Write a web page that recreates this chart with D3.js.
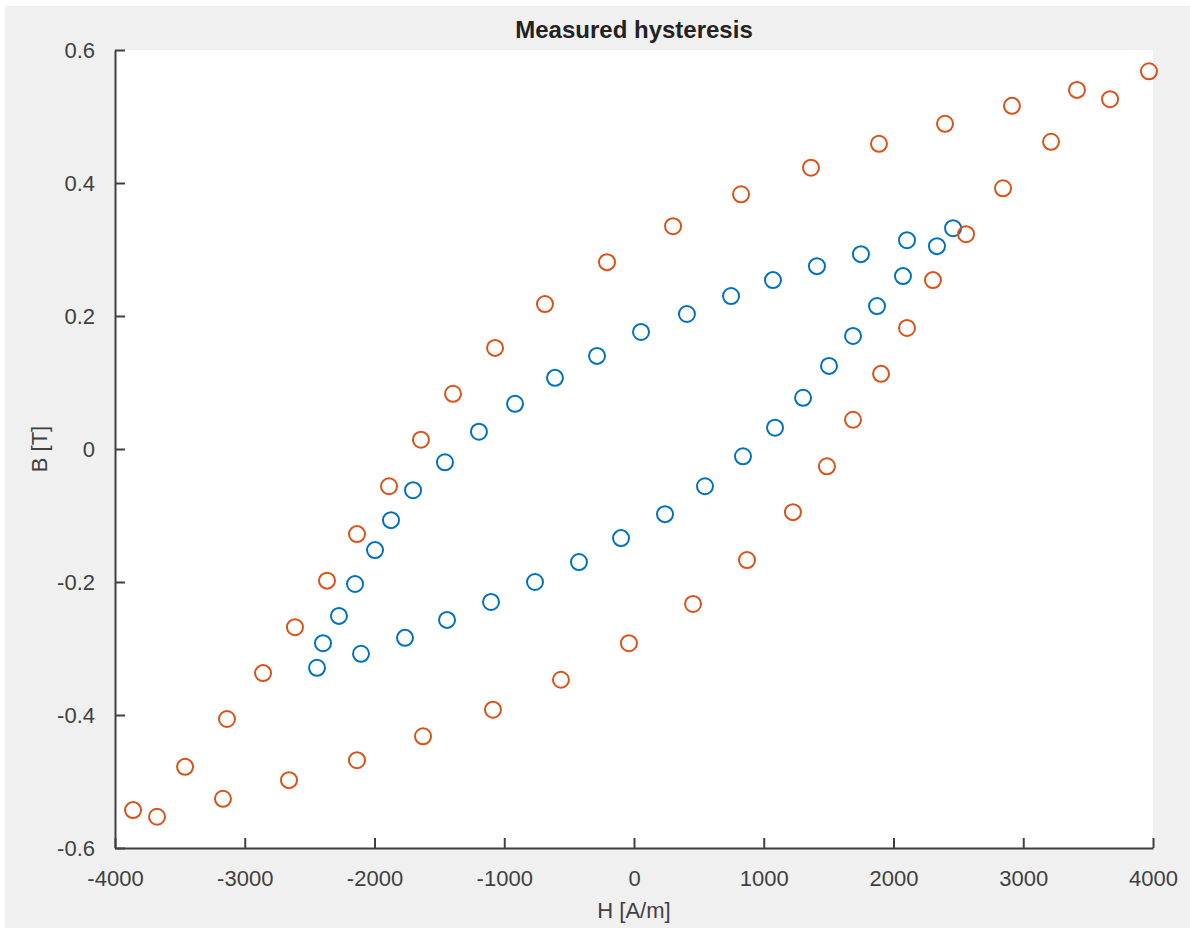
<!DOCTYPE html>
<meta charset="utf-8">
<style>
  body { margin: 0; background: #fff; }
</style>

<!-- Load d3.js -->
<script src="https://d3js.org/d3.v7.min.js"></script>

<div id="my_dataviz"></div>
<script>

// measured points, small loop (blue) then large loop (orange)
var hSmall = [-2443, -2397, -2274, -2150, -1996, -1873, -1703, -1457, -1195, -917, -609, -285, 54, 408, 748, 1071, 1410, 1749, 2104, 2459,
  2335, 2073, 1873, 1688, 1503, 1303, 1087, 840, 547, 239, -100, -424, -763, -1102, -1441, -1765, -2104];
var bSmall = [-0.329, -0.292, -0.251, -0.203, -0.152, -0.107, -0.062, -0.020, 0.026, 0.068, 0.107, 0.140, 0.176, 0.203, 0.230, 0.254, 0.275, 0.293, 0.314, 0.332,
  0.305, 0.260, 0.215, 0.170, 0.125, 0.077, 0.032, -0.011, -0.056, -0.098, -0.134, -0.170, -0.200, -0.230, -0.257, -0.284, -0.308];

var hLarge = [-3861, -3460, -3137, -2859, -2613, -2366, -2135, -1888, -1642, -1395, -1071, -686, -208, 301, 825, 1364, 1888, 2397, 2913, 3414, 3969,
  3669, 3214, 2844, 2559, 2304, 2104, 1904, 1688, 1487, 1225, 871, 455, -39, -563, -1087, -1626, -2135, -2659, -3168, -3676];
var bLarge = [-0.543, -0.478, -0.406, -0.337, -0.268, -0.198, -0.128, -0.056, 0.014, 0.083, 0.152, 0.218, 0.281, 0.335, 0.383, 0.423, 0.459, 0.489, 0.516, 0.540, 0.568,
  0.526, 0.462, 0.392, 0.323, 0.254, 0.182, 0.113, 0.044, -0.026, -0.095, -0.167, -0.233, -0.292, -0.347, -0.392, -0.432, -0.468, -0.498, -0.526, -0.553];

var xTicks = [-4000, -3000, -2000, -1000, 0, 1000, 2000, 3000, 4000];
var yTicks = [-0.6, -0.4, -0.2, 0, 0.2, 0.4, 0.6];

var colors = ["#0072BD", "#D95319"];
var axisColor = "#404040";

var width = 1190, height = 928;
var margin = {left: 115, top: 50, right: 37, bottom: 80};

var svg = d3.select("#my_dataviz")
  .append("svg")
    .attr("width", width)
    .attr("height", height)
    .style("font-family", "'Liberation Sans', Arial, sans-serif");

// grey figure background, white axes box
svg.append("rect")
  .attr("x", 5).attr("y", 6)
  .attr("width", width - 5).attr("height", height - 6)
  .attr("fill", "#f0f0f0");

var x = d3.scaleLinear().domain([-4000, 4000]).range([margin.left, width - margin.right]);
var y = d3.scaleLinear().domain([-0.6, 0.6]).range([height - margin.bottom, margin.top]);

svg.append("rect")
  .attr("x", x(-4000)).attr("y", y(0.6))
  .attr("width", x(4000) - x(-4000)).attr("height", y(-0.6) - y(0.6))
  .attr("fill", "#fff");

// plain hyphen for negative numbers, like the original
function fmtX(d) { return String(d); }
function fmtY(d) { return d === 0 ? "0" : d.toFixed(1); }

// axes, ticks pointing inward
var xAxis = svg.append("g")
  .attr("transform", "translate(0," + y(-0.6) + ")")
  .call(d3.axisBottom(x).tickValues(xTicks).tickSizeInner(-10).tickSizeOuter(0).tickPadding(22).tickFormat(fmtX));
var yAxis = svg.append("g")
  .attr("transform", "translate(" + x(-4000) + ",0)")
  .call(d3.axisLeft(y).tickValues(yTicks).tickSizeInner(-10).tickSizeOuter(0).tickPadding(20).tickFormat(fmtY));

[xAxis, yAxis].forEach(function(a) {
  a.select(".domain").attr("stroke", axisColor).attr("stroke-width", 2);
  a.selectAll(".tick line").attr("stroke", axisColor).attr("stroke-width", 2);
  a.selectAll(".tick text").attr("fill", axisColor).style("font-size", "22px");
});

// scatter markers
function drawSeries(hs, bs, color) {
  svg.append("g")
    .selectAll("circle")
    .data(d3.range(hs.length))
    .enter()
    .append("circle")
      .attr("cx", function(i) { return x(hs[i]); })
      .attr("cy", function(i) { return y(bs[i]); })
      .attr("r", 8)
      .attr("fill", "none")
      .attr("stroke", color)
      .attr("stroke-width", 2);
}
drawSeries(hSmall, bSmall, colors[0]);
drawSeries(hLarge, bLarge, colors[1]);

// title and labels
svg.append("text")
  .attr("x", (x(-4000) + x(4000)) / 2)
  .attr("y", 38)
  .attr("text-anchor", "middle")
  .style("font-size", "24px")
  .style("font-weight", "bold")
  .attr("fill", "#222")
  .text("Measured hysteresis");

svg.append("text")
  .attr("x", (x(-4000) + x(4000)) / 2)
  .attr("y", 918)
  .attr("text-anchor", "middle")
  .style("font-size", "22px")
  .attr("fill", axisColor)
  .text("H [A/m]");

svg.append("text")
  .attr("transform", "translate(47," + y(0) + ") rotate(-90)")
  .attr("text-anchor", "middle")
  .style("font-size", "22px")
  .attr("fill", axisColor)
  .text("B [T]");

</script>
